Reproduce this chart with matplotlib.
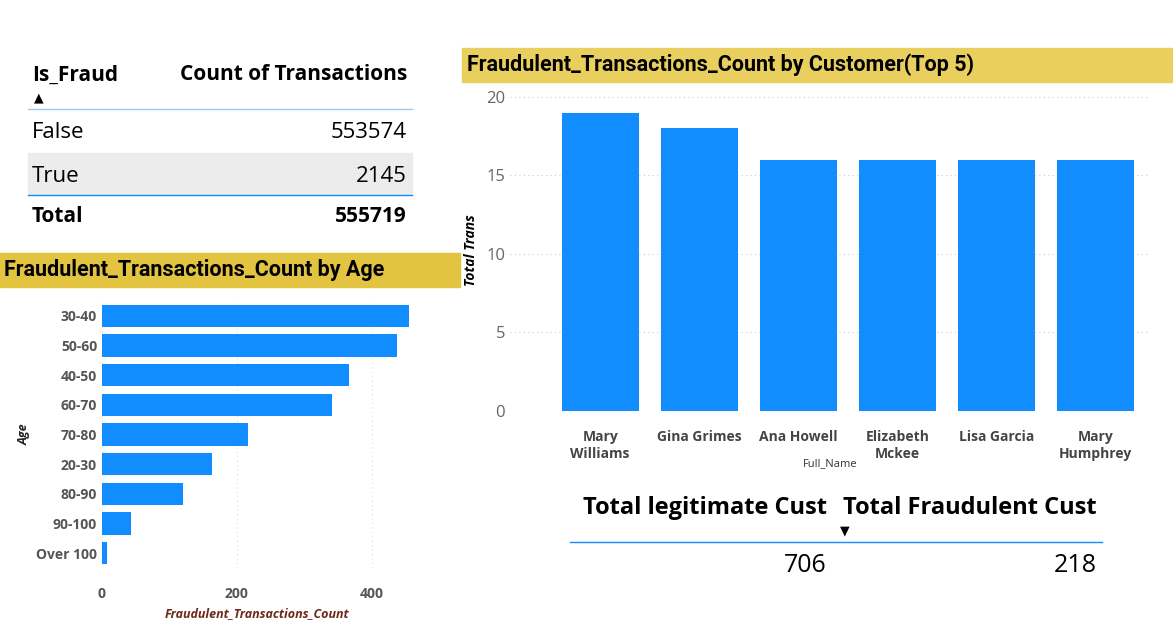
import matplotlib
matplotlib.use("Agg")
from matplotlib import pyplot as plt
from matplotlib import patches

plt.rcParams["font.family"] = ["Open Sans", "DejaVu Sans"]

W, H = 1173, 637
blue = "#118DFF"

fraud_labels = ["False", "True"]
fraud_counts = [553574, 2145]
fraud_total = 555719

ages = ["30-40", "50-60", "40-50", "60-70", "70-80", "20-30", "80-90", "90-100", "Over 100"]
age_counts = [456, 438, 366, 342, 216, 163, 120, 43, 7]

customers = ["Mary\nWilliams", "Gina Grimes", "Ana Howell", "Elizabeth\nMckee", "Lisa Garcia", "Mary\nHumphrey"]
cust_counts = [19, 18, 16, 16, 16, 16]

legit_cust = 706
fraud_cust = 218

fig = plt.figure(figsize=(W / 100, H / 100), dpi=100)


def fx(px):
    return px / W


def fy(py):
    return 1 - py / H


def hline(x0, x1, y, color, lw=1):
    fig.add_artist(plt.Line2D([fx(x0), fx(x1)], [fy(y), fy(y)], color=color, lw=lw))


def band(x0, x1, y0, y1, color):
    fig.add_artist(patches.Rectangle((fx(x0), fy(y1)), fx(x1 - x0), (y1 - y0) / H,
                                     color=color, transform=fig.transFigure, zorder=0))


# table
fig.text(fx(32), fy(75), "Is_Fraud", fontsize=15, weight="bold", va="center")
fig.text(fx(407), fy(75), "Count of Transactions", fontsize=15, weight="bold", va="center", ha="right")
fig.text(fx(34), fy(98), "\u25b2", fontsize=9, va="center")
hline(28, 412, 109, "#9ec9f0")
band(28, 412, 153, 195, "#ececec")
for i, (lab, c) in enumerate(zip(fraud_labels, fraud_counts)):
    y = 133 + 43 * i
    fig.text(fx(32), fy(y), lab, fontsize=16, va="center")
    fig.text(fx(407), fy(y), str(c), fontsize=16, va="center", ha="right")
hline(28, 412, 195, blue)
fig.text(fx(32), fy(216), "Total", fontsize=15, weight="bold", va="center")
fig.text(fx(407), fy(216), str(fraud_total), fontsize=15, weight="bold", va="center", ha="right")

# age chart
band(0, 460, 253, 287, "#E3C440")
fig.text(fx(4), fy(270), "Fraudulent_Transactions_Count by Age", fontsize=15.5, weight="bold",
         va="center", family=["Roboto", "DejaVu Sans"])
ax1 = fig.add_axes([fx(102), fy(568), fx(412 - 102), (568 - 301) / H])
ax1.barh(range(len(ages)), age_counts, color=blue, height=0.75)
ax1.set_yticks(range(len(ages)))
ax1.set_yticklabels(ages)
ax1.set_ylim(8.5, -0.5)
ax1.set_xlim(0, 460)
ax1.set_xticks([0, 200, 400])
ax1.grid(axis="x", linestyle=(0, (1, 3)), color="#dddddd")
ax1.set_axisbelow(True)
for s in ax1.spines.values():
    s.set_visible(False)
ax1.tick_params(length=0, labelsize=10, colors="#555555")
ax1.tick_params(axis="x", pad=14)
for t in ax1.get_xticklabels() + ax1.get_yticklabels():
    t.set_weight("bold")
ax1.set_ylabel("Age", fontsize=9, style="italic", weight="bold", color="#222222")
ax1.set_xlabel("Fraudulent_Transactions_Count", fontsize=9, style="italic", weight="bold", color="#6b2a1a")

# customer chart
band(462, 1173, 48, 82, "#E8CF5E")
fig.text(fx(467), fy(65), "Fraudulent_Transactions_Count by Customer(Top 5)", fontsize=15.5,
         weight="bold", va="center", family=["Roboto", "DejaVu Sans"])
ax2 = fig.add_axes([fx(510), fy(411), fx(1150 - 510), (411 - 89) / H])
ax2.bar(range(len(customers)), cust_counts, color=blue, width=0.78)
ax2.set_xticks(range(len(customers)))
ax2.set_xticklabels(customers)
ax2.set_ylim(0, 20.5)
ax2.set_xlim(-0.91, 5.55)
ax2.set_yticks([0, 5, 10, 15, 20])
ax2.grid(axis="y", linestyle=(0, (1, 3)), color="#cccccc")
ax2.set_axisbelow(True)
for s in ax2.spines.values():
    s.set_visible(False)
ax2.tick_params(length=0, labelsize=10)
ax2.tick_params(axis="y", colors="#666666", labelsize=12)
ax2.tick_params(axis="x", colors="#444444", pad=14)
for t in ax2.get_xticklabels():
    t.set_weight("bold")
ax2.set_ylabel("Total Trans", fontsize=10, style="italic", weight="bold", labelpad=6)
ax2.set_xlabel("Full_Name", fontsize=8, color="#333333", labelpad=-2)

# card
fig.text(fx(827), fy(508), "Total legitimate Cust", fontsize=17, weight="bold", va="center", ha="right")
fig.text(fx(1097), fy(508), "Total Fraudulent Cust", fontsize=17, weight="bold", va="center", ha="right")
fig.text(fx(845), fy(531), "\u25bc", fontsize=9, va="center", ha="center")
hline(570, 1102, 542, blue)
fig.text(fx(827), fy(565), str(legit_cust), fontsize=18, va="center", ha="right")
fig.text(fx(1097), fy(565), str(fraud_cust), fontsize=18, va="center", ha="right")

fig.savefig("out.png", dpi=100)
